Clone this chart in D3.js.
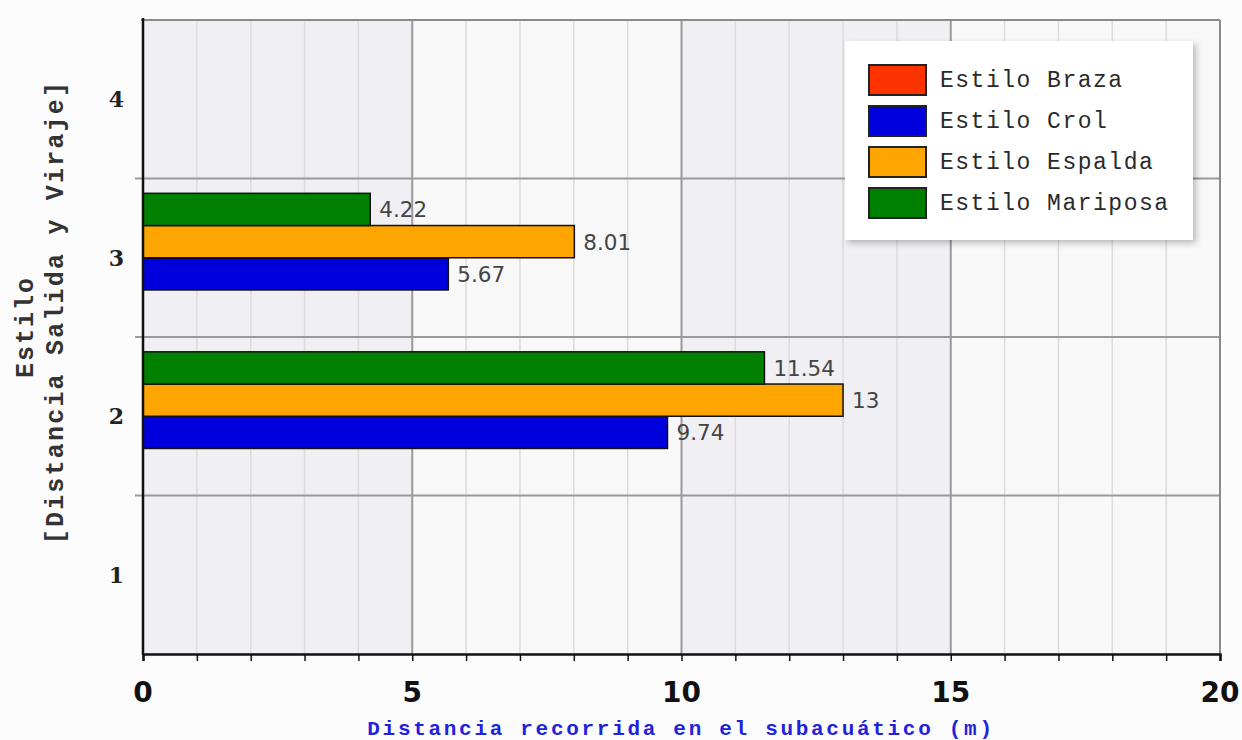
<!DOCTYPE html>
<html><head><meta charset="utf-8">
<script src="https://cdn.jsdelivr.net/npm/d3@7"></script>
<style>html,body{margin:0;padding:0;background:#fcfcfc;}</style>
</head><body><svg id="c" width="1242" height="740"></svg>
<script>
const categories = ["1","2","3","4"];
const seriesNames = ["Estilo Braza","Estilo Crol","Estilo Espalda","Estilo Mariposa"];
const seriesColors = ["#ff3300","#0000dd","#ffa500","#008000"];
const braza = [null,null,null,null];
const crol = [null,9.74,5.67,null];
const espalda = [null,13,8.01,null];
const mariposa = [null,11.54,4.22,null];
const xTicks = [0,5,10,15,20];
const seriesValues = [braza,crol,espalda,mariposa];

const svg = d3.select("#c");
const L=143,R=1220,T=20,B=654;
const x = d3.scaleLinear().domain([0,20]).range([L,R]);
const y = d3.scaleBand().domain(categories).range([B,T]);
const ys = d3.scaleBand().domain(d3.range(4)).range([0,y.bandwidth()]).paddingOuter(0.46).paddingInner(0);

// column bands
const g = svg.append("g");
for(let i=0;i<4;i++){
  g.append("rect").attr("x",x(i*5)).attr("y",T).attr("width",x(5)-x(0)).attr("height",B-T)
   .attr("fill", i%2===0 ? "#efeff4" : "#f8f8f8");
}
// minor grid
g.selectAll(".mg").data(d3.range(1,20).filter(d=>d%5!==0)).enter().append("line")
 .attr("x1",d=>x(d)).attr("x2",d=>x(d)).attr("y1",T).attr("y2",B)
 .attr("stroke","#dcdcdc").attr("stroke-width",1.5);
// major grid
g.selectAll(".Mg").data([5,10,15]).enter().append("line")
 .attr("x1",d=>x(d)).attr("x2",d=>x(d)).attr("y1",T).attr("y2",B)
 .attr("stroke","#9a9a9a").attr("stroke-width",2);
// horizontal category boundaries
g.selectAll(".hg").data(["2","3","4"]).enter().append("line")
 .attr("x1",L-8).attr("x2",R).attr("y1",d=>y(d)+y.bandwidth()).attr("y2",d=>y(d)+y.bandwidth())
 .attr("stroke","#9a9a9a").attr("stroke-width",2);
// top & right border
g.append("line").attr("x1",L-2).attr("x2",R).attr("y1",T).attr("y2",T).attr("stroke","#8a8a8a").attr("stroke-width",2);
g.append("line").attr("x1",R).attr("x2",R).attr("y1",T).attr("y2",B).attr("stroke","#8a8a8a").attr("stroke-width",2);

// bars (first series at bottom)
seriesValues.forEach((vals,si)=>{
  const slot = 3-si;
  vals.forEach((v,ci)=>{
    if(v==null) return;
    const cat = categories[ci];
    const yy = y(cat)+ys(slot);
    svg.append("rect").attr("x",x(0)).attr("y",yy).attr("width",x(v)-x(0)).attr("height",ys.bandwidth())
      .attr("fill",seriesColors[si]).attr("stroke","#111").attr("stroke-width",1.5);
    svg.append("text").attr("x",x(v)+9).attr("y",yy+ys.bandwidth()/2+8)
      .attr("font-family","DejaVu Sans").attr("font-size",21.5).attr("fill","#444").text(v);
  });
});

// axes
const xa = svg.append("g").attr("transform",`translate(0,${B})`)
  .call(d3.axisBottom(x).tickValues(d3.range(0,21)).tickSize(7).tickFormat(""));
xa.select(".domain").attr("stroke","#111").attr("stroke-width",2.5);
xa.selectAll(".tick line").attr("stroke","#111").attr("stroke-width",1.5);
svg.append("g").selectAll("text").data(xTicks).enter().append("text")
  .attr("x",d=>x(d)).attr("y",702).attr("text-anchor","middle")
  .attr("font-family","DejaVu Sans").attr("font-weight","bold").attr("font-size",28).attr("fill","#111").text(d=>d);
svg.append("line").attr("x1",L).attr("x2",L).attr("y1",T-2).attr("y2",B+1).attr("stroke","#111").attr("stroke-width",2.5);
svg.append("g").selectAll("text").data(categories).enter().append("text")
  .attr("x",124).attr("y",d=>y(d)+y.bandwidth()/2+8).attr("text-anchor","end")
  .attr("font-family","DejaVu Serif").attr("font-weight","bold").attr("font-size",22).attr("fill","#222").text(d=>d);

// axis titles
svg.append("text").attr("transform","translate(33,327) rotate(-90)").attr("text-anchor","middle")
  .attr("font-family","Liberation Mono").attr("font-weight","bold").attr("font-size",25).attr("letter-spacing",2)
  .attr("fill","#333").text("Estilo");
svg.append("text").attr("transform","translate(63,312) rotate(-90)").attr("text-anchor","middle")
  .attr("font-family","Liberation Mono").attr("font-weight","bold").attr("font-size",25).attr("letter-spacing",2.2)
  .attr("fill","#333").text("[Distancia Salida y Viraje]");
svg.append("text").attr("x",681).attr("y",735).attr("text-anchor","middle")
  .attr("font-family","Liberation Mono").attr("font-weight","bold").attr("font-size",21).attr("letter-spacing",2.7)
  .attr("fill","#2222dd").text("Distancia recorrida en el subacuático (m)");

// legend
const defs = svg.append("defs");
const f = defs.append("filter").attr("id","sh").attr("x","-10%").attr("y","-10%").attr("width","130%").attr("height","130%");
f.append("feDropShadow").attr("dx",3).attr("dy",3).attr("stdDeviation",3).attr("flood-color","#000").attr("flood-opacity",0.25);
const lg = svg.append("g");
lg.append("rect").attr("x",845).attr("y",41).attr("width",348).attr("height",199).attr("fill","#ffffff").attr("filter","url(#sh)");
seriesNames.forEach((n,i)=>{
  lg.append("rect").attr("x",869).attr("y",65+i*41).attr("width",57).attr("height",30)
    .attr("fill",seriesColors[i]).attr("stroke","#222").attr("stroke-width",2);
  lg.append("text").attr("x",940).attr("y",87+i*41)
    .attr("font-family","Liberation Mono").attr("font-size",23).attr("letter-spacing",1.5)
    .attr("fill","#2a2a2a").text(n);
});
</script></body></html>
